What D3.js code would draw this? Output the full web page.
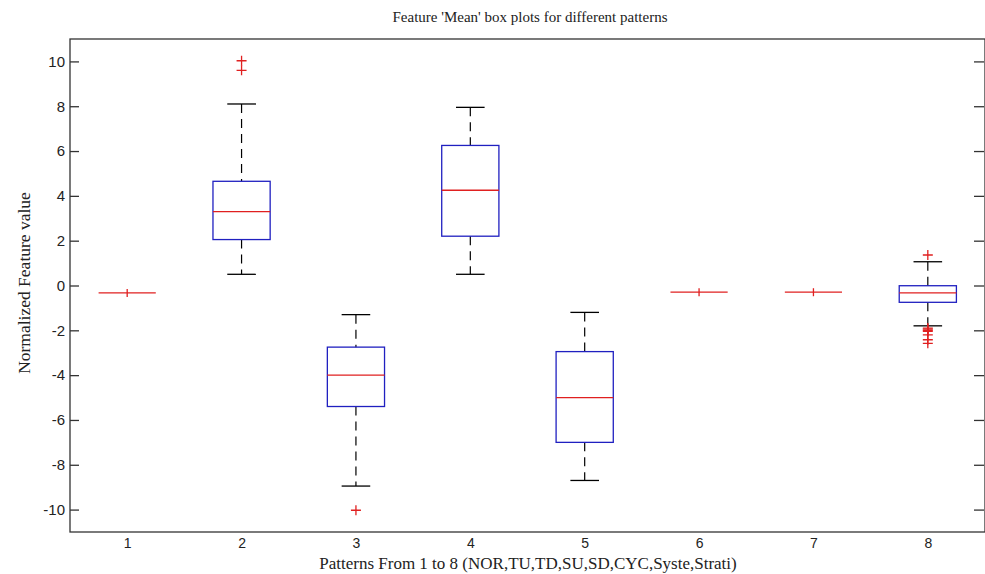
<!DOCTYPE html>
<html>
<head>
<meta charset="utf-8">
<script src="https://cdn.jsdelivr.net/npm/d3@7"></script>
<style>
  body { margin: 0; background: #fff; }
  svg { display: block; }
</style>
</head>
<body>
<svg id="chart"></svg>
<script>
// data
const patterns = [1, 2, 3, 4, 5, 6, 7, 8];
const whiskerLow = [-0.33, 0.5, -8.95, 0.5, -8.7, -0.3, -0.3, -1.8];
const q1 = [-0.33, 2.05, -5.4, 2.2, -7.0, -0.3, -0.3, -0.75];
const medians = [-0.33, 3.3, -4.0, 4.25, -5.0, -0.3, -0.3, -0.33];
const q3 = [-0.33, 4.65, -2.75, 6.25, -2.95, -0.3, -0.3, -0.01];
const whiskerHigh = [-0.33, 8.1, -1.3, 7.95, -1.2, -0.3, -0.3, 1.06];
const outliers = [[], [10.03, 9.6], [-10.03], [], [], [], [],
  [1.36, -1.9, -1.95, -2.0, -2.05, -2.2, -2.42, -2.58]];
const yTicks = [-10, -8, -6, -4, -2, 0, 2, 4, 6, 8, 10];

const WIDTH = 985, HEIGHT = 574;
const mLeft = 70, mRight = 985, mTop = 39, mBottom = 532;

const svg = d3.select("#chart").attr("width", WIDTH).attr("height", HEIGHT);

const x = d3.scaleLinear().domain([0.5, 8.5]).range([mLeft, mRight]);
const y = d3.scaleLinear().domain([-11, 11]).range([mBottom, mTop]);
const bw = (x(1.25) - x(0.75)); // box width (0.5 units)
const cw = bw / 2;              // cap width

// frame
svg.append("rect")
  .attr("x", mLeft).attr("y", mTop)
  .attr("width", mRight - mLeft).attr("height", mBottom - mTop)
  .attr("fill", "none").attr("stroke", "#333").attr("stroke-width", 1.3);

// y axis left, ticks inward
const yAxis = d3.axisLeft(y).tickValues(yTicks).tickSizeInner(-9).tickSizeOuter(0)
  .tickPadding(5).tickFormat(d => String(d));
const gy = svg.append("g").attr("transform", `translate(${mLeft},0)`).call(yAxis);
gy.select(".domain").remove();
gy.selectAll("line").attr("stroke", "#333").attr("stroke-width", 1.3);
gy.selectAll("text").attr("font-family", "Liberation Sans, Arial, sans-serif")
  .attr("font-size", 15).attr("fill", "#222");

// right ticks
const gyr = svg.append("g").attr("transform", `translate(${mRight - 1},0)`)
  .call(d3.axisRight(y).tickValues(yTicks).tickSizeInner(-10).tickSizeOuter(0).tickFormat(""));
gyr.select(".domain").remove();
gyr.selectAll("line").attr("stroke", "#333").attr("stroke-width", 1.3);

// x tick labels
const gx = svg.append("g").attr("transform", `translate(0,${mBottom})`)
  .call(d3.axisBottom(x).tickValues(patterns).tickSize(0).tickPadding(6).tickFormat(d3.format("d")));
gx.select(".domain").remove();
gx.selectAll("text").attr("font-family", "Liberation Sans, Arial, sans-serif")
  .attr("font-size", 14).attr("fill", "#222");

// boxes
const g = svg.append("g");
patterns.forEach((p, i) => {
  const cx = x(p);
  const flat = q1[i] === q3[i] && whiskerLow[i] === whiskerHigh[i];
  if (flat) {
    g.append("line").attr("x1", cx - bw / 2).attr("x2", cx + bw / 2)
      .attr("y1", y(medians[i])).attr("y2", y(medians[i]))
      .attr("stroke", "#e02020").attr("stroke-width", 1.3);
    g.append("line").attr("x1", cx).attr("x2", cx)
      .attr("y1", y(medians[i]) - 4).attr("y2", y(medians[i]) + 4)
      .attr("stroke", "#e02020").attr("stroke-width", 1.3);
    return;
  }
  // whiskers (dashed)
  g.append("line").attr("x1", cx).attr("x2", cx)
    .attr("y1", y(whiskerHigh[i])).attr("y2", y(q3[i]))
    .attr("stroke", "#000").attr("stroke-width", 1.2).attr("stroke-dasharray", "9,6");
  g.append("line").attr("x1", cx).attr("x2", cx)
    .attr("y1", y(q1[i])).attr("y2", y(whiskerLow[i]))
    .attr("stroke", "#000").attr("stroke-width", 1.2).attr("stroke-dasharray", "9,6");
  // caps
  [whiskerHigh[i], whiskerLow[i]].forEach(v => {
    g.append("line").attr("x1", cx - cw / 2).attr("x2", cx + cw / 2)
      .attr("y1", y(v)).attr("y2", y(v))
      .attr("stroke", "#000").attr("stroke-width", 1.3);
  });
  // box
  g.append("rect").attr("x", cx - bw / 2).attr("y", y(q3[i]))
    .attr("width", bw).attr("height", y(q1[i]) - y(q3[i]))
    .attr("fill", "none").attr("stroke", "#2020c0").attr("stroke-width", 1.3);
  // median
  g.append("line").attr("x1", cx - bw / 2).attr("x2", cx + bw / 2)
    .attr("y1", y(medians[i])).attr("y2", y(medians[i]))
    .attr("stroke", "#e02020").attr("stroke-width", 1.3);
  // outliers
  outliers[i].forEach(v => {
    g.append("path")
      .attr("d", `M${cx - 5},${y(v)}H${cx + 5}M${cx},${y(v) - 5}V${y(v) + 5}`)
      .attr("stroke", "#e02020").attr("stroke-width", 1.3).attr("fill", "none");
  });
});

// title & labels
svg.append("text").attr("x", 530).attr("y", 22)
  .attr("text-anchor", "middle").attr("font-family", "Liberation Serif, Times New Roman, serif")
  .attr("font-size", 15).attr("fill", "#222")
  .text("Feature 'Mean' box plots for different patterns");

svg.append("text").attr("x", 528).attr("y", 569)
  .attr("text-anchor", "middle").attr("font-family", "Liberation Serif, Times New Roman, serif")
  .attr("font-size", 17).attr("fill", "#222")
  .text("Patterns From 1 to 8 (NOR,TU,TD,SU,SD,CYC,Syste,Strati)");

svg.append("text").attr("transform", `translate(30,283) rotate(-90)`)
  .attr("text-anchor", "middle").attr("font-family", "Liberation Serif, Times New Roman, serif")
  .attr("font-size", 17.5).attr("fill", "#222")
  .text("Normalized Feature value");
</script>
</body>
</html>
